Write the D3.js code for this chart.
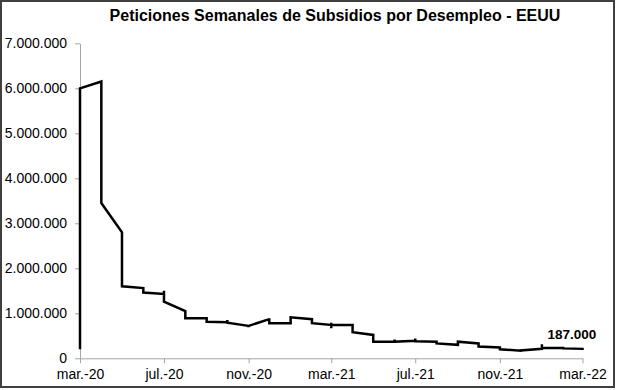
<!DOCTYPE html>
<html>
<head>
<meta charset="utf-8">
<script src="https://cdn.jsdelivr.net/npm/d3@7"></script>
<style>
  body { margin: 0; background: #fff; }
  text { font-family: "Liberation Sans", Arial, sans-serif; }
</style>
</head>
<body>
<div class="chart"></div>
<script>
// Chart data: one entry per month, weekly claims inside each month
var months = ["2020-03", "2020-04", "2020-05", "2020-06", "2020-07", "2020-08", "2020-09",
    "2020-10", "2020-11", "2020-12", "2021-01", "2021-02", "2021-03", "2021-04", "2021-05",
    "2021-06", "2021-07", "2021-08", "2021-09", "2021-10", "2021-11", "2021-12", "2022-01",
    "2022-02", "2022-03"];

var weeklyClaims = [
    [200000, 250000, 2900000, 6000000],
    [6150000, 5000000, 4300000, 3450000],
    [2800000, 2400000, 2100000, 1900000, 1600000],
    [1560000, 1500000, 1460000],
    [1430000, 1500000, 1380000, 1260000],
    [1050000, 960000, 890000],
    [890000, 850000, 810000],
    [800000, 850000, 790000],
    [720000, 730000, 720000],
    [870000, 890000, 780000],
    [780000, 850000, 910000],
    [870000, 830000, 780000],
    [740000, 790000, 670000, 740000],
    [740000, 650000, 580000],
    [520000, 450000, 410000, 370000],
    [370000, 420000, 350000, 370000],
    [390000, 440000, 350000, 380000],
    [370000, 350000, 330000],
    [300000, 340000, 370000],
    [330000, 290000, 260000],
    [240000, 210000, 200000],
    [170000, 175000],
    [210000, 310000, 240000, 230000],
    [230000, 220000],
    [210000, 187000]
];

var xTickMonths = ["2020-03", "2020-07", "2020-11", "2021-03", "2021-07", "2021-11", "2022-03"];
var xTickLabels = ["mar.-20", "jul.-20", "nov.-20", "mar.-21", "jul.-21", "nov.-21", "mar.-22"];
var yTicks = [0, 1000000, 2000000, 3000000, 4000000, 5000000, 6000000, 7000000];
var lastLabel = "187.000";

// Svg size and margins
var svgWidth = 617;
var svgHeight = 390;
var margin = { top: 43.3, right: 34.5, bottom: 31.7, left: 80 };
var width = svgWidth - margin.left - margin.right;
var height = svgHeight - margin.top - margin.bottom;

var parseMonth = d3.timeParse("%Y-%m");

// Flatten months into points, every week of a month sits on the month's x
var points = [];
months.forEach(function(m, i) {
    weeklyClaims[i].forEach(function(v) {
        points.push({ date: parseMonth(m), value: v });
    });
});

var svg = d3.select(".chart")
    .append("svg")
    .attr("width", svgWidth)
    .attr("height", svgHeight);

// outer frame
svg.append("rect")
    .attr("x", 1)
    .attr("y", 1)
    .attr("width", 613)
    .attr("height", 386)
    .attr("fill", "none")
    .attr("stroke", "#404040")
    .attr("stroke-width", 2);

svg.append("text")
    .attr("x", 335)
    .attr("y", 21)
    .attr("text-anchor", "middle")
    .style("font-size", "16px")
    .style("font-weight", "bold")
    .text("Peticiones Semanales de Subsidios por Desempleo - EEUU");

var chartGroup = svg.append("g")
    .attr("transform", `translate(${margin.left}, ${margin.top})`);

// Scales
var xScale = d3.scaleTime()
    .domain([parseMonth(months[0]), parseMonth(months[months.length - 1])])
    .range([0, width]);

var yScale = d3.scaleLinear()
    .domain([0, 7000000])
    .range([height, 0]);

var locale = d3.formatLocale({ decimal: ",", thousands: ".", grouping: [3], currency: ["", ""] });
var fmt = locale.format(",d");

// Axes
var bottomAxis = d3.axisBottom(xScale)
    .tickValues(xTickMonths.map(parseMonth))
    .tickFormat(function(d, i) { return xTickLabels[i]; })
    .tickSizeInner(5)
    .tickSizeOuter(0)
    .tickPadding(6);

var leftAxis = d3.axisLeft(yScale)
    .tickValues(yTicks)
    .tickFormat(fmt)
    .tickSizeInner(5)
    .tickSizeOuter(0)
    .tickPadding(8);

var xAxisG = chartGroup.append("g")
    .attr("transform", `translate(0, ${height})`)
    .call(bottomAxis);

var yAxisG = chartGroup.append("g")
    .call(leftAxis);

[xAxisG, yAxisG].forEach(function(g) {
    g.selectAll("path, line").attr("stroke", "#a6a6a6");
    g.selectAll("text")
        .attr("fill", "#000")
        .style("font-size", "14px")
        .style("font-family", "'Liberation Sans', Arial, sans-serif");
});

// The claims line
var line = d3.line()
    .x(d => xScale(d.date))
    .y(d => yScale(d.value));

chartGroup.append("path")
    .datum(points)
    .attr("d", line)
    .attr("fill", "none")
    .attr("stroke", "#000")
    .attr("stroke-width", 2.5)
    .attr("stroke-linejoin", "miter");

// Last value label
var last = points[points.length - 1];
chartGroup.append("text")
    .attr("x", xScale(last.date) - 35)
    .attr("y", yScale(last.value) - 11)
    .style("font-size", "13.5px")
    .style("font-weight", "bold")
    .text(lastLabel);
</script>
</body>
</html>
